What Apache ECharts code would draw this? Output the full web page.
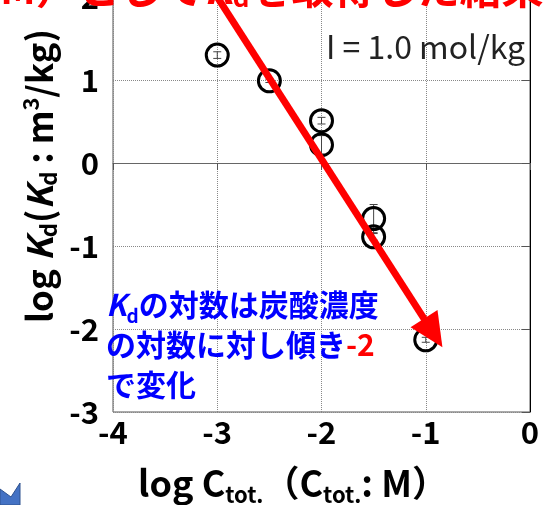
<!DOCTYPE html>
<html>
<head>
<meta charset="utf-8">
<script src="https://cdn.jsdelivr.net/npm/echarts@6/dist/echarts.min.js"></script>
<style>
  html, body { margin: 0; padding: 0; background: #fff; }
  #chart { width: 549px; height: 505px; }
</style>
</head>
<body>
<div id="chart"></div>
<script>
// log C_tot. (x) and log Kd (y) with measurement uncertainty
const logC = [-3.0, -2.5, -2.0, -2.0, -1.5, -1.5, -1.0];
const logKd = [1.30, 0.99, 0.51, 0.22, -0.67, -0.89, -2.13];
const kdErr = [0.04, 0.02, 0.04, 0.11, 0.17, 0.04, 0.03];

// slope -2 guide arrow (start, tip) in data units
const arrowFrom = [-3.0, 2.0];
const arrowTo = [-0.84, -2.22];

const xTicks = [-4, -3, -2, -1, 0];
const yTicks = [-3, -2, -1, 0, 1, 2];

const JP = '"Noto Sans CJK JP", "Noto Sans", sans-serif';

const points = logC.map((x, i) => [x, logKd[i]]);
const errRows = logC.map((x, i) => [x, logKd[i], kdErr[i]]);

const chart = echarts.init(document.getElementById('chart'), null, { renderer: 'canvas' });

chart.setOption({
  animation: false,
  backgroundColor: '#fff',
  grid: {
    left: 113, right: 19, top: -3, bottom: 93,
    containLabel: false, outerBoundsMode: 'none',
    show: true, borderColor: '#555', borderWidth: 1, backgroundColor: 'transparent'
  },
  xAxis: {
    type: 'value', min: xTicks[0], max: xTicks[xTicks.length - 1], interval: 1,
    axisLine: { show: true, lineStyle: { color: '#666', width: 1 } },
    axisTick: { show: true, inside: false, length: 7, lineStyle: { color: '#555' } },
    axisLabel: { fontFamily: JP, fontWeight: 'bold', fontSize: 31, color: '#000', margin: 5 },
    splitLine: { show: true, lineStyle: { color: '#888', type: [1, 1], width: 1 } }
  },
  yAxis: {
    type: 'value', min: yTicks[0], max: yTicks[yTicks.length - 1], interval: 1,
    axisLine: { show: true, lineStyle: { color: '#000', width: 1 } },
    axisTick: { show: true, length: 8, lineStyle: { color: '#555' } },
    axisLabel: { fontFamily: JP, fontWeight: 'bold', fontSize: 31, color: '#000', margin: 14 },
    splitLine: { show: true, lineStyle: { color: '#888', type: [1, 1], width: 1 } }
  },
  series: [
    {
      type: 'custom',
      name: 'error',
      data: errRows,
      z: 3,
      renderItem: function (params, api) {
        const x = api.value(0), y = api.value(1), e = api.value(2);
        const top = api.coord([x, y + e]);
        const bot = api.coord([x, y - e]);
        const w = 4;
        const st = { stroke: '#444', lineWidth: 1 };
        return {
          type: 'group',
          children: [
            { type: 'line', shape: { x1: top[0], y1: top[1], x2: bot[0], y2: bot[1] }, style: st },
            { type: 'line', shape: { x1: top[0] - w, y1: top[1], x2: top[0] + w, y2: top[1] }, style: st },
            { type: 'line', shape: { x1: bot[0] - w, y1: bot[1], x2: bot[0] + w, y2: bot[1] }, style: st }
          ]
        };
      }
    },
    {
      type: 'scatter',
      data: points,
      symbol: 'circle',
      symbolSize: 22,
      z: 4,
      itemStyle: { color: 'rgba(0,0,0,0)', borderColor: '#000', borderWidth: 3, opacity: 1 }
    },
    {
      type: 'custom',
      name: 'slope',
      data: [[arrowFrom[0], arrowFrom[1], arrowTo[0], arrowTo[1]]],
      z: 6,
      clip: false,
      renderItem: function (params, api) {
        const p1 = api.coord([api.value(0), api.value(1)]);
        const p2 = api.coord([api.value(2), api.value(3)]);
        const dx = p2[0] - p1[0], dy = p2[1] - p1[1];
        const len = Math.sqrt(dx * dx + dy * dy);
        const ux = dx / len, uy = dy / len;
        const headLen = 34, headHalf = 16;
        const bx = p2[0] - ux * headLen, by = p2[1] - uy * headLen;
        return {
          type: 'group',
          children: [
            { type: 'line', shape: { x1: p1[0], y1: p1[1], x2: bx + ux * 2, y2: by + uy * 2 },
              style: { stroke: '#ff0000', lineWidth: 7 } },
            { type: 'polygon', shape: { points: [
                [p2[0], p2[1]],
                [bx - uy * headHalf, by + ux * headHalf],
                [bx + uy * headHalf, by - ux * headHalf]
              ] },
              style: { fill: '#ff0000' } }
          ]
        };
      }
    }
  ],
  graphic: [
    {
      type: 'text', left: 0, top: -33, z: 10,
      style: {
        text: '{a|M）として}{k|K}{s|d}{a|を取得した結果}',
        fill: '#ff0000',
        rich: {
          a: { fontFamily: JP, fontWeight: 'bold', fontSize: 42, fill: '#ff0000', lineHeight: 44 },
          k: { fontFamily: JP, fontWeight: 'bold', fontStyle: 'italic', fontSize: 42, fill: '#ff0000', lineHeight: 44 },
          s: { fontFamily: JP, fontWeight: 'bold', fontSize: 26, fill: '#ff0000', lineHeight: 44, verticalAlign: 'bottom' }
        }
      }
    },
    {
      type: 'text', left: 326, top: 31, z: 10,
      style: { text: 'I = 1.0 mol/kg', fontFamily: JP, fontSize: 32, fill: '#222' }
    },
    {
      type: 'text', x: 60, y: 176, rotation: Math.PI / 2, z: 10,
      style: {
        text: '{a|log }{k|K}{s|d}{a|(}{k|K}{s|d}{a| : m}{p|3}{a|/kg)}',
        align: 'center', verticalAlign: 'bottom',
        rich: {
          a: { fontFamily: JP, fontWeight: 'bold', fontSize: 35, fill: '#000', lineHeight: 40 },
          k: { fontFamily: JP, fontWeight: 'bold', fontStyle: 'italic', fontSize: 35, fill: '#000', lineHeight: 40 },
          s: { fontFamily: JP, fontWeight: 'bold', fontSize: 22, fill: '#000', lineHeight: 40, verticalAlign: 'bottom' },
          p: { fontFamily: JP, fontWeight: 'bold', fontSize: 22, fill: '#000', lineHeight: 40, verticalAlign: 'top' }
        }
      }
    },
    {
      type: 'text', x: 293, y: 506, z: 10,
      style: {
        text: '{a|log C}{s|tot.}{a|（C}{s|tot.}{a|: M）}',
        align: 'center', verticalAlign: 'bottom',
        rich: {
          a: { fontFamily: JP, fontWeight: 'bold', fontSize: 36, fill: '#000', lineHeight: 46 },
          s: { fontFamily: JP, fontWeight: 'bold', fontSize: 22, fill: '#000', lineHeight: 46, verticalAlign: 'bottom' }
        }
      }
    },
    {
      type: 'text', left: 106, top: 290, z: 10,
      style: {
        text: '{k|K}{s|d}{b|の対数は炭酸濃度}\n{b|の対数に対し傾き}{r|-2}\n{b|で変化}',
        rich: {
          b: { fontFamily: JP, fontWeight: 'bold', fontSize: 30, fill: '#0000ff', lineHeight: 40 },
          k: { fontFamily: JP, fontWeight: 'bold', fontStyle: 'italic', fontSize: 30, fill: '#0000ff', lineHeight: 40 },
          s: { fontFamily: JP, fontWeight: 'bold', fontSize: 19, fill: '#0000ff', lineHeight: 40, verticalAlign: 'bottom' },
          r: { fontFamily: JP, fontWeight: 'bold', fontSize: 30, fill: '#ff0000', lineHeight: 40 }
        }
      }
    },
    {
      type: 'polygon', z: 10,
      shape: { points: [[0, 489], [11, 497], [20, 483], [20, 505], [0, 505]] },
      style: { fill: '#4472c4', stroke: '#2f528f', lineWidth: 1 }
    }
  ]
});
</script>
</body>
</html>
